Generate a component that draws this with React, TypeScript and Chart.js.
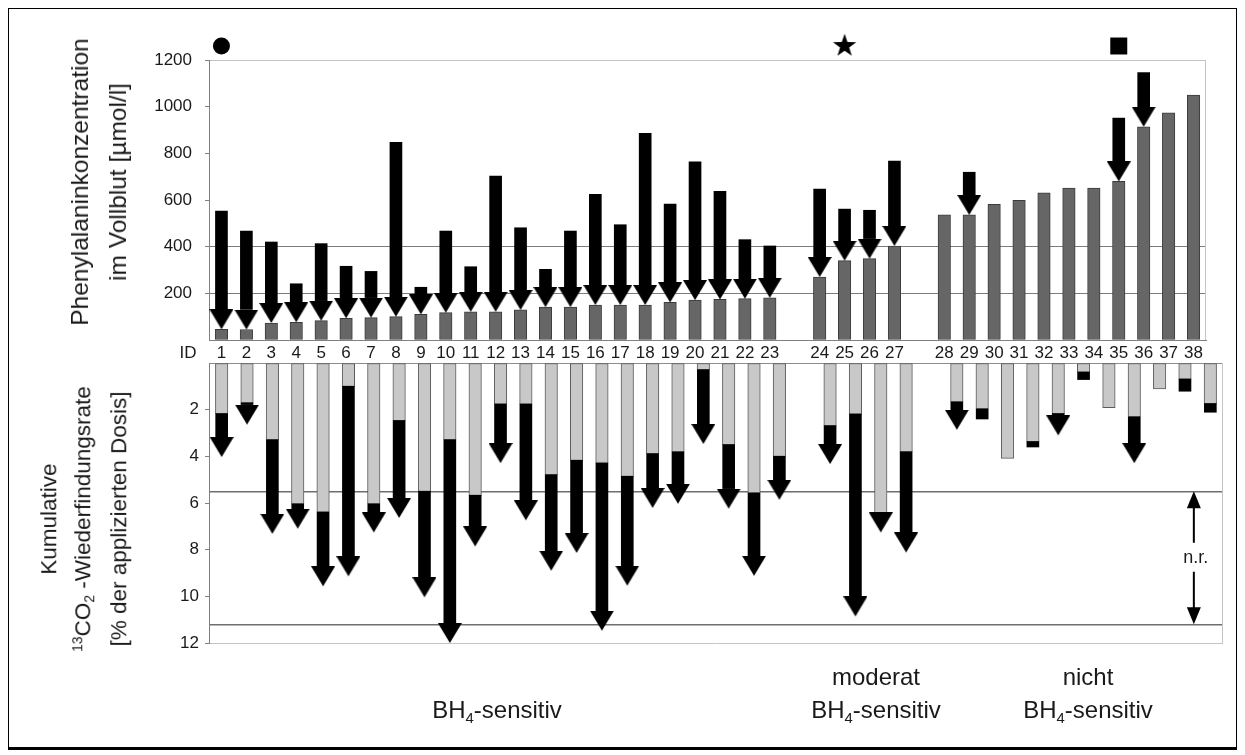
import React, { useEffect, useRef } from 'react';
import { Chart, registerables } from 'chart.js';

Chart.register(...registerables);

const FONT = '"Liberation Sans", Arial, Helvetica, sans-serif';

// Patient IDs; '' marks the gap between the three patient groups
const categories = ['1','2','3','4','5','6','7','8','9','10','11','12','13','14','15','16','17','18','19','20','21','22','23','','24','25','26','27','','28','29','30','31','32','33','34','35','36','37','38'];

// Phenylalanine after BH4 (grey bars), µmol/l
const pheAfter = [46,45,73,76,83,93,96,100,110,117,121,121,129,141,141,150,150,150,161,171,174,177,181,null,270,340,349,403,null,536,536,581,599,631,651,651,680,914,974,1050];
// Phenylalanine before BH4 (start of the black arrows), µmol/l
const pheBefore = [553,467,420,241,413,316,294,847,226,467,314,703,481,303,467,624,494,886,583,764,637,430,403,null,647,561,556,767,null,null,719,null,null,null,null,null,951,1146,null,null];

// Symbols above the top chart
const markerValues = [1260,null,null,null,null,null,null,null,null,null,null,null,null,null,null,null,null,null,null,null,null,null,null,null,null,1260,null,null,null,null,null,null,null,null,null,null,1260,null,null,null];
const markerKinds = ['circle',null,null,null,null,null,null,null,null,null,null,null,null,null,null,null,null,null,null,null,null,null,null,null,null,'star',null,null,null,null,null,null,null,null,null,null,'square',null,null,null];

// 13CO2 recovery, % of dose: light grey part, end of black part / arrow tip, arrow flag
const recoveryBase = [2.17,1.71,3.29,6.04,6.39,1.0,6.04,2.47,5.5,3.29,5.67,1.76,1.76,4.79,4.17,4.29,4.86,3.89,3.81,0.29,3.5,5.57,4.0,null,2.69,2.19,6.46,3.81,null,1.67,1.97,4.09,3.37,2.17,0.39,1.91,2.31,1.11,0.69,1.74];
const recoveryEnd = [4.03,2.64,7.32,7.10,9.57,9.14,7.26,6.64,10.04,12.0,7.86,4.29,6.74,8.9,8.14,11.47,9.54,6.21,6.03,3.47,6.24,9.12,5.86,null,4.33,10.86,7.26,8.12,null,2.86,2.4,null,3.6,3.1,0.71,null,4.29,null,1.21,2.11];
const recoveryArrow = [1,1,1,1,1,1,1,1,1,1,1,1,1,1,1,1,1,1,1,1,1,1,1,0,1,1,1,1,0,1,0,0,0,1,0,0,1,0,0,0];

const pheTicks = [0, 200, 400, 600, 800, 1000, 1200];
const pheRefLines = [200, 400];
const recTicks = [0, 2, 4, 6, 8, 10, 12];
const recRefLines = [5.5, 11.2];
const nrRange = [5.5, 11.2];
const nrSlot = 38.35;

// layout
const CW = 1227;
const CH = 738;
const AXIS_W = 200;
const RIGHT_PAD = 13;
const PLOT_H = 280;
const TOP_PLOT_TOP = 51;
const BOT_PLOT_TOP = 354;
const HEAD_W = 24;
const HEAD_PX = 20;
const PHE_MAX = 1200;
const REC_MAX = 12;
const HEAD_TOP_UNITS = (HEAD_PX * PHE_MAX) / PLOT_H;
const HEAD_BOT_UNITS = (HEAD_PX * REC_MAX) / PLOT_H;

function makeHead(): HTMLCanvasElement {
  const c = document.createElement('canvas');
  c.width = HEAD_W;
  c.height = HEAD_PX * 2;
  const g = c.getContext('2d')!;
  g.fillStyle = '#000';
  g.beginPath();
  g.moveTo(0, 0);
  g.lineTo(HEAD_W, 0);
  g.lineTo(HEAD_W / 2, HEAD_PX);
  g.closePath();
  g.fill();
  return c;
}

function makeStar(): HTMLCanvasElement {
  const c = document.createElement('canvas');
  c.width = 26;
  c.height = 26;
  const g = c.getContext('2d')!;
  g.fillStyle = '#000';
  g.beginPath();
  const R = 12.2, r = 4.8, cx = 13, cy = 13;
  for (let i = 0; i < 10; i++) {
    const a = -Math.PI / 2 + (i * Math.PI) / 5;
    const rr = i % 2 === 0 ? R : r;
    const x = cx + rr * Math.cos(a), y = cy + rr * Math.sin(a);
    if (i === 0) g.moveTo(x, y); else g.lineTo(x, y);
  }
  g.closePath();
  g.fill();
  return c;
}

const framePlugin = {
  id: 'frame',
  beforeDatasetsDraw(chart: any) {
    const { ctx, chartArea: a } = chart;
    ctx.save();
    ctx.strokeStyle = '#c4c4c4';
    ctx.lineWidth = 1;
    const x = Math.round(a.right) - 0.5;
    ctx.beginPath();
    ctx.moveTo(x, a.top);
    ctx.lineTo(x, a.bottom);
    ctx.stroke();
    ctx.restore();
  },
};

const idPlugin = {
  id: 'idlabel',
  afterDraw(chart: any) {
    const { ctx, chartArea: a } = chart;
    ctx.save();
    ctx.fillStyle = '#1a1a1a';
    ctx.font = '17px ' + FONT;
    ctx.textAlign = 'center';
    ctx.textBaseline = 'middle';
    ctx.fillText('ID', a.left - 21, a.bottom + 13);
    ctx.restore();
  },
};

const nrPlugin = {
  id: 'nr',
  afterDatasetsDraw(chart: any) {
    const { ctx } = chart;
    const x = chart.scales.x.getPixelForValue(nrSlot);
    const y1 = chart.scales.y.getPixelForValue(nrRange[0]);
    const y2 = chart.scales.y.getPixelForValue(nrRange[1]);
    const mid = (y1 + y2) / 2;
    const hw = 7, hh = 17;
    ctx.save();
    ctx.fillStyle = '#000';
    ctx.strokeStyle = '#000';
    ctx.lineWidth = 2;
    ctx.beginPath();
    ctx.moveTo(x, y1);
    ctx.lineTo(x - hw, y1 + hh);
    ctx.lineTo(x + hw, y1 + hh);
    ctx.closePath();
    ctx.fill();
    ctx.beginPath();
    ctx.moveTo(x, y2);
    ctx.lineTo(x - hw, y2 - hh);
    ctx.lineTo(x + hw, y2 - hh);
    ctx.closePath();
    ctx.fill();
    ctx.beginPath();
    ctx.moveTo(x, y1 + hh - 1);
    ctx.lineTo(x, mid - 15);
    ctx.moveTo(x, mid + 14);
    ctx.lineTo(x, y2 - hh + 1);
    ctx.stroke();
    ctx.font = '18px ' + FONT;
    ctx.textAlign = 'center';
    ctx.textBaseline = 'middle';
    ctx.fillStyle = '#1a1a1a';
    ctx.fillText('n.r.', x + 2, mid);
    ctx.restore();
  },
};

const Sub = ({ children }: { children: any }) => (
  <span style={{ fontSize: '0.62em', position: 'relative', top: '0.35em' }}>{children}</span>
);
const Sup = ({ children }: { children: any }) => (
  <span style={{ fontSize: '0.62em', position: 'relative', top: '-0.55em' }}>{children}</span>
);

const rot = (cx: number, cy: number): React.CSSProperties => ({
  position: 'absolute',
  left: cx,
  top: cy,
  transform: 'translate(-50%, -50%) rotate(-90deg)',
  whiteSpace: 'nowrap',
  textAlign: 'center',
});
const flat = (cx: number, cy: number): React.CSSProperties => ({
  position: 'absolute',
  left: cx,
  top: cy,
  transform: 'translate(-50%, -50%)',
  whiteSpace: 'nowrap',
  textAlign: 'center',
  fontSize: 24,
  lineHeight: '33px',
});

export default function App() {
  const topRef = useRef<HTMLCanvasElement>(null);
  const botRef = useRef<HTMLCanvasElement>(null);

  useEffect(() => {
    Chart.defaults.font.family = FONT;
    const head = makeHead();
    const star = makeStar();

    const markerStyles = markerKinds.map((k) => (k === 'star' ? star : k === 'square' ? 'rect' : 'circle'));
    const markerRadii = markerKinds.map((k) => (k === 'square' ? 12 : k === 'star' ? 10 : 8.5));

    const pheShafts = pheBefore.map((b, i) => (b == null || pheAfter[i] == null ? null : [b, (pheAfter[i] as number) + HEAD_TOP_UNITS]));
    const pheHeads = pheBefore.map((b, i) => (b == null ? null : pheAfter[i]));

    const recGrey = recoveryBase.map((g) => (g == null ? null : [0, g]));
    const recBlack = recoveryBase.map((g, i) => {
      const e = recoveryEnd[i];
      if (g == null || e == null) return null;
      const end = recoveryArrow[i] ? e - HEAD_BOT_UNITS : e;
      return end > g ? [g, end] : null;
    });
    const recHeads = recoveryEnd.map((e, i) => (recoveryArrow[i] && e != null ? e : null));

    const tickFont = { size: 17 };
    const tickColor = '#1a1a1a';

    const top = new Chart(topRef.current as HTMLCanvasElement, {
      type: 'bar',
      data: {
        labels: categories,
        datasets: [
          {
            type: 'line',
            data: markerValues,
            showLine: false,
            pointStyle: markerStyles as any,
            pointRadius: markerRadii,
            pointHoverRadius: 30,
            pointBackgroundColor: '#000',
            pointBorderColor: '#000',
            pointBorderWidth: 0,
            clip: false as any,
            order: 0,
          } as any,
          {
            type: 'line',
            data: pheHeads,
            showLine: false,
            pointStyle: head as any,
            pointRadius: 1,
            pointHoverRadius: 1,
            pointBorderWidth: 0,
            clip: false as any,
            order: 1,
          } as any,
          {
            type: 'bar',
            data: pheShafts as any,
            backgroundColor: '#000',
            borderWidth: 0,
            barThickness: 12,
            grouped: false,
            order: 2,
          } as any,
          {
            type: 'bar',
            data: pheAfter as any,
            backgroundColor: '#666666',
            borderColor: '#3c3c3c',
            borderWidth: 1,
            borderSkipped: false,
            barThickness: 12.5,
            grouped: false,
            order: 3,
          } as any,
        ],
      },
      options: {
        responsive: false,
        animation: false,
        events: [],
        layout: { padding: { top: TOP_PLOT_TOP, left: 0, right: RIGHT_PAD, bottom: CH - TOP_PLOT_TOP - PLOT_H - 30 } },
        plugins: { legend: { display: false }, tooltip: { enabled: false } },
        scales: {
          x: {
            type: 'category',
            offset: true,
            grid: { display: false, drawTicks: false },
            border: { display: true, color: '#808080', width: 1 },
            ticks: { autoSkip: false, maxRotation: 0, minRotation: 0, color: tickColor, font: tickFont, padding: 3 },
            afterFit: (s: any) => { s.height = 30; },
          },
          y: {
            type: 'linear',
            min: 0,
            max: PHE_MAX,
            afterBuildTicks: (s: any) => { s.ticks = pheTicks.map((v) => ({ value: v })); },
            ticks: { callback: (v: any) => (v === 0 ? '' : String(v)), color: tickColor, font: tickFont, padding: 13 },
            grid: {
              color: (c: any) => {
                const v = c.tick && c.tick.value;
                if (pheRefLines.includes(v)) return '#7c7c7c';
                if (v === PHE_MAX) return '#c4c4c4';
                return 'rgba(0,0,0,0)';
              },
              tickColor: (c: any) => (c.tick && c.tick.value !== 0 ? '#808080' : 'rgba(0,0,0,0)'),
              tickLength: 4,
              lineWidth: 1,
            },
            border: { display: true, color: '#808080', width: 1 },
            afterFit: (s: any) => { s.width = AXIS_W; },
          },
        },
      } as any,
      plugins: [framePlugin, idPlugin],
    } as any);

    const recAllTicks = [...recTicks, ...recRefLines].sort((a, b) => a - b);
    const bot = new Chart(botRef.current as HTMLCanvasElement, {
      type: 'bar',
      data: {
        labels: categories,
        datasets: [
          {
            type: 'line',
            data: recHeads,
            showLine: false,
            pointStyle: head as any,
            pointRadius: 1,
            pointHoverRadius: 1,
            pointBorderWidth: 0,
            clip: false as any,
            order: 1,
          } as any,
          {
            type: 'bar',
            data: recBlack as any,
            backgroundColor: '#000',
            borderWidth: 0,
            barThickness: 12,
            grouped: false,
            order: 2,
          } as any,
          {
            type: 'bar',
            data: recGrey as any,
            backgroundColor: '#c8c8c8',
            borderColor: '#5c5c5c',
            borderWidth: 1,
            borderSkipped: false,
            barThickness: 12.5,
            grouped: false,
            order: 3,
          } as any,
        ],
      },
      options: {
        responsive: false,
        animation: false,
        events: [],
        layout: { padding: { top: BOT_PLOT_TOP, left: 0, right: RIGHT_PAD, bottom: CH - BOT_PLOT_TOP - PLOT_H } },
        plugins: { legend: { display: false }, tooltip: { enabled: false } },
        scales: {
          x: { type: 'category', offset: true, display: false },
          y: {
            type: 'linear',
            min: 0,
            max: REC_MAX,
            reverse: true,
            afterBuildTicks: (s: any) => { s.ticks = recAllTicks.map((v) => ({ value: v })); },
            ticks: {
              callback: (v: any) => (recTicks.includes(v) && v !== 0 ? String(v) : ''),
              color: tickColor,
              font: tickFont,
              padding: 6,
            },
            grid: {
              color: (c: any) => {
                const v = c.tick && c.tick.value;
                if (recRefLines.includes(v)) return '#6e6e6e';
                if (v === 0) return '#8c8c8c';
                if (v === REC_MAX) return '#c4c4c4';
                return 'rgba(0,0,0,0)';
              },
              tickColor: (c: any) => (c.tick && recTicks.includes(c.tick.value) && c.tick.value !== 0 ? '#808080' : 'rgba(0,0,0,0)'),
              tickLength: 4,
              lineWidth: (c: any) => (c.tick && recRefLines.includes(c.tick.value) ? 1.5 : 1),
            },
            border: { display: true, color: '#808080', width: 1 },
            afterFit: (s: any) => { s.width = AXIS_W; },
          },
        },
      } as any,
      plugins: [framePlugin, nrPlugin],
    } as any);

    return () => {
      top.destroy();
      bot.destroy();
    };
  }, []);

  return (
    <div
      style={{
        position: 'relative',
        width: 1233,
        height: 744,
        border: '3px solid #000',
        boxSizing: 'border-box',
        margin: '-2px 0 0 -2px',
        background: '#fff',
        fontFamily: FONT,
        color: '#1a1a1a',
      }}
    >
      <canvas ref={topRef} width={CW} height={CH} style={{ position: 'absolute', left: 0, top: 0 }} />
      <canvas ref={botRef} width={CW} height={CH} style={{ position: 'absolute', left: 0, top: 0 }} />
      <div style={{ ...rot(90, 173), fontSize: 24.5, lineHeight: '38px' }}>
        <div>Phenylalaninkonzentration</div>
        <div>im Vollblut [µmol/l]</div>
      </div>
      <div style={{ ...rot(74.5, 510), fontSize: 22.5, lineHeight: '33.5px' }}>
        <div>Kumulative</div>
        <div>
          <Sup>13</Sup>CO<Sub>2</Sub> -Wiederfindungsrate
        </div>
        <div>[% der applizierten Dosis]</div>
      </div>
      <div style={flat(488, 702)}>
        BH<Sub>4</Sub>-sensitiv
      </div>
      <div style={flat(867, 685.5)}>
        <div>moderat</div>
        <div>
          BH<Sub>4</Sub>-sensitiv
        </div>
      </div>
      <div style={flat(1079, 685.5)}>
        <div>nicht</div>
        <div>
          BH<Sub>4</Sub>-sensitiv
        </div>
      </div>
    </div>
  );
}
